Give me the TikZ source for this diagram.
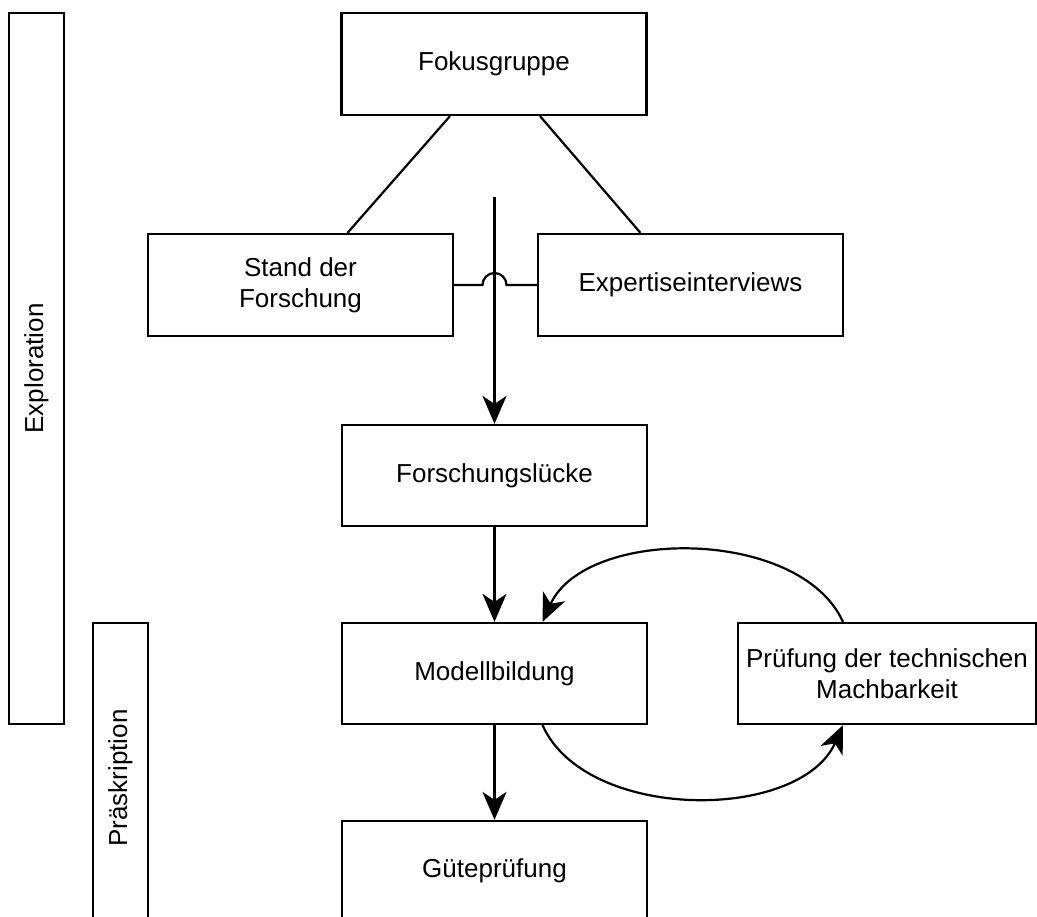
\documentclass[tikz,border=0pt]{standalone}
\usepackage{fontspec}
\setmainfont{Liberation Sans}
\usetikzlibrary{arrows.meta}
\begin{document}
\begin{tikzpicture}[x=1pt,y=-1pt,
  line width=2.2pt,
  font=\fontsize{26}{31}\selectfont,
  box/.style={draw, inner sep=0pt, align=center, minimum width=305pt, minimum height=101pt},
  bar/.style={draw, inner sep=0pt, rotate=90, minimum height=55pt},
  arr/.style={-{Stealth[length=28pt,width=24pt,inset=8pt]}}]
\useasboundingbox (0,0) rectangle (1037,917);
\clip (0,0) rectangle (1037,917);

% phase bars
\node[bar, minimum width=711pt] (expl) at (36.5,368.5) {Exploration};
\node[bar, minimum width=310pt] (praes) at (120.5,778) {Präskription};

% process boxes
\node[box, minimum height=102pt] (fok) at (494,64) {Fokusgruppe};
\node[box, minimum height=102pt] (stand) at (300.5,285) {Stand der\\Forschung};
\node[box, minimum height=102pt] (exp) at (690.5,285) {Expertiseinterviews};
\node[box] (luecke) at (494.5,475.5) {Forschungslücke};
\node[box] (modell) at (494.5,673.5) {Modellbildung};
\node[box, minimum width=298pt] (pruef) at (887,673.5) {Prüfung der technischen\\Machbarkeit};
\node[box, minimum height=100pt] (guete) at (494.5,871) {Güteprüfung};

% Fokusgruppe feeds both sources
\draw ([xshift=-44pt]fok.south) -- ([xshift=47pt]stand.north);
\draw ([xshift=46pt]fok.south) -- ([xshift=-50pt]exp.north);

% link between sources, hopping over the main arrow
\coordinate (hop) at (494.5,285);
\draw (stand.east) -- ([xshift=-12pt]hop) arc[start angle=180,end angle=0,radius=12pt] -- (exp.west);

% main flow
\coordinate (src) at (494.5,197);
\draw[arr] (src) -- (luecke.north);
\draw[arr] (luecke.south) -- (modell.north);
\draw[arr] (modell.south) -- (guete.north);

% feasibility loop
\draw[arr] ([xshift=-44pt]pruef.north) .. controls +(-43pt,95pt) and +(43pt,95pt) .. ([xshift=48pt]modell.north);
\draw[arr] ([xshift=48pt]modell.south) .. controls +(43pt,-97pt) and +(-43pt,-97pt) .. ([xshift=-44pt]pruef.south);
\end{tikzpicture}
\end{document}
